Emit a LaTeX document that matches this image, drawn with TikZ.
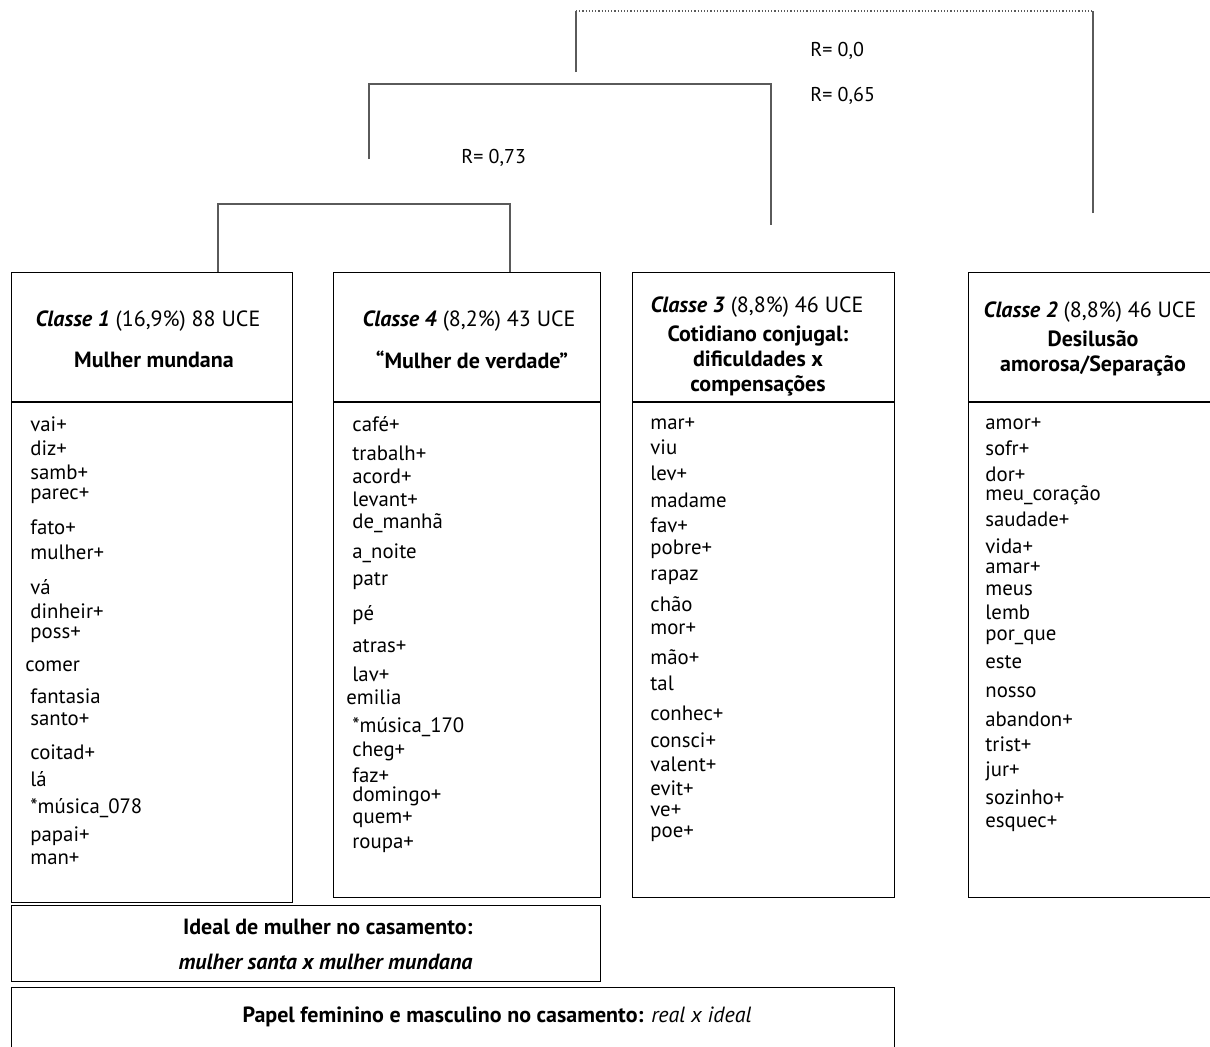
\documentclass[tikz,border=0pt]{standalone}
\usepackage{fontspec}
\setmainfont{PT Sans}
\usetikzlibrary{positioning}

\definecolor{dendrogray}{RGB}{90,90,90}

\begin{document}
\begin{tikzpicture}[
    x=0.5pt, y=-0.5pt,
    clsbox/.style={draw=black, line width=0.6pt, anchor=north west, inner sep=0pt},
    clshead/.style={font=\fontsize{11}{12.5}\selectfont, align=center, inner sep=0pt},
    clsword/.style={font=\fontsize{10.4}{12}\selectfont, anchor=west, inner sep=0pt},
    dendro/.style={draw=dendrogray, line width=0.6pt},
    rlabel/.style={font=\fontsize{10}{12}\selectfont, anchor=west, inner sep=0pt}
]
  \useasboundingbox (0,0) rectangle (1210,1046);
  \clip (0,0) rectangle (1210,1046);

  % class boxes
  \node[clsbox, minimum width=140.5pt, minimum height=315pt] (b1) at (11,272) {};
  \node[clsbox, minimum width=133.5pt, minimum height=312.5pt] (b4) at (333,272) {};
  \node[clsbox, minimum width=131pt, minimum height=312.5pt] (b3) at (632,272) {};
  \node[clsbox, minimum width=136pt, minimum height=312.5pt] (b2) at (968,272) {};
  \draw[line width=0.6pt] (b1.north west) ++(0,130) -- ++(281,0);
  \draw[line width=0.6pt] (b4.north west) ++(0,130) -- ++(267,0);
  \draw[line width=0.6pt] (b3.north west) ++(0,130) -- ++(262,0);
  \draw[line width=0.6pt] (b2.north west) ++(0,130) -- ++(272,0);

  % theme boxes
  \node[clsbox, minimum width=294.5pt, minimum height=38pt] (ideal) at (11,905) {};
  \node[clsbox, minimum width=441.5pt, minimum height=41.5pt] (papel) at (11,987) {};

  % dendrogram
  \coordinate (j14) at (364,204);
  \coordinate (j14top) at (369,159);
  \coordinate (j143) at (570,84);
  \coordinate (c3top) at (771,225);
  \coordinate (j143top) at (576,72);
  \coordinate (c2top) at (1093,213);
  \draw[dendro] (b1.north -| 218,0) |- (j14) -| (b4.north -| 510,0);
  \draw[dendro] (j14top) |- (j143) -| (c3top);
  \draw[dendro] (j143top) -- (j143top |- 0,11);
  \draw[dendro] (c2top) -- (c2top |- 0,11);
  \draw[dendro, densely dotted] (j143top |- 0,11) -- (c2top |- 0,11);
  \node[rlabel] (r0) at (810,51) {R= 0,0};
  \node[rlabel] (r65) at (810,96) {R= 0,65};
  \node[rlabel] (r73) at (461,158) {R= 0,73};

  % headers
  \node[clshead] (h1) at (148,321) {\textbf{\textit{Classe 1}} (16,9\%) 88 UCE};
  \node[clshead] (t1) at (154,360) {\textbf{Mulher mundana}};
  \node[clshead] (h4) at (469,321) {\textbf{\textit{Classe 4}} (8,2\%) 43 UCE};
  \node[clshead] (t4) at (472,360) {\textbf{“Mulher de verdade”}};
  \node[clshead] (h3) at (757,307) {\textbf{\textit{Classe 3}} (8,8\%) 46 UCE};
  \node[clshead, anchor=north] (t3) at (758,325) {\textbf{Cotidiano conjugal:}\\\textbf{dificuldades x}\\\textbf{compensações}};
  \node[clshead] (h2) at (1090,312) {\textbf{\textit{Classe 2}} (8,8\%) 46 UCE};
  \node[clshead, anchor=north] (t2) at (1093,330) {\textbf{Desilusão}\\\textbf{amorosa/Separação}};

  % word lists
  \foreach \w/\y [count=\i] in {vai+/424, diz+/448, samb+/472, parec+/496, fato+/527,
      mulher+/552, vá/587, dinheir+/611, poss+/635, fantasia/696, santo+/719,
      coitad+/752, lá/779, *música\_078/808, papai+/836, man+/859}
    \node[clsword] (w1-\i) at (30,\y) {\w};
  \node[clsword] (w1-com) at (25,666) {comer};
  \foreach \w/\y [count=\i] in {café+/424, trabalh+/453, acord+/476, levant+/499,
      de\_manhã/523, a\_noite/553, patr/581, pé/615, atras+/646, lav+/674,
      *música\_170/727, cheg+/751, faz+/775, domingo+/796, quem+/820, roupa+/845}
    \node[clsword] (w4-\i) at (352,\y) {\w};
  \node[clsword] (w4-emi) at (346,697) {emilia};
  \foreach \w/\y [count=\i] in {mar+/424, viu/447, lev+/473, madame/500, fav+/525,
      pobre+/549, rapaz/577, chão/604, mor+/629, mão+/657, tal/683, conhec+/713,
      consci+/740, valent+/764, evit+/788, ve+/811, poe+/834}
    \node[clsword] (w3-\i) at (650,\y) {\w};
  \foreach \w/\y [count=\i] in {amor+/424, sofr+/448, dor+/474, meu\_coração/495,
      saudade+/519, vida+/546, amar+/568, meus/590, lemb/612, por\_que/637, este/662,
      nosso/692, abandon+/719, trist+/744, jur+/771, sozinho+/797, esquec+/824}
    \node[clsword] (w2-\i) at (985,\y) {\w};

  % themes
  \node[clshead, font=\fontsize{11}{17.5}\selectfont, align=right, anchor=east] (ti) at (473,944)
    {\textbf{Ideal de mulher no casamento:}\\\textbf{\textit{mulher santa x mulher mundana}}};
  \node[clshead] (tp) at (497,1017)
    {\textbf{Papel feminino e masculino no casamento:} \textit{real x ideal}};
\end{tikzpicture}
\end{document}
